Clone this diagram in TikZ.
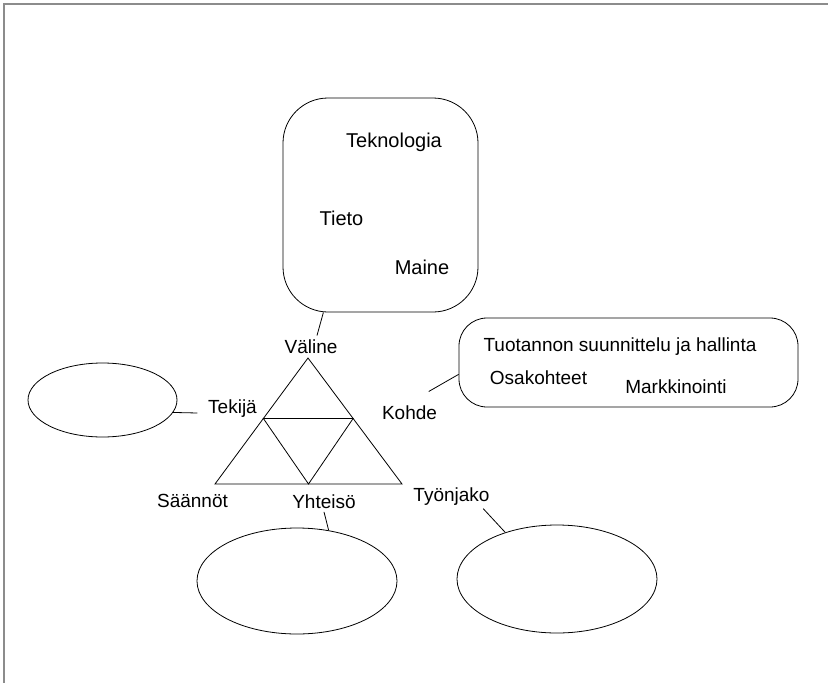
\documentclass[tikz,border=0pt]{standalone}
\usepackage{fontspec}
\setmainfont{Liberation Sans}
\usepackage{tikz}
\usetikzlibrary{shapes.geometric,calc}

\begin{document}
\begin{tikzpicture}[x=1pt,y=-1pt,line width=0.8pt,
  lbl/.style={anchor=base,font=\fontsize{19}{22}\selectfont},
  big/.style={anchor=base,font=\fontsize{20}{24}\selectfont},
  oval/.style={draw,shape=ellipse,inner sep=0pt}]

\useasboundingbox (0,0) rectangle (828,683);
\draw[gray!90,line width=1.6pt] (4,683) -- (4,4) -- (828,4);

\node[draw,rounded corners=45pt,minimum width=195pt,minimum height=214pt] (tools) at (380.5,205) {};
\node[big] (tekno) at (394,147) {Teknologia};
\node[big] (tieto) at (341.5,225) {Tieto};
\node[big] (maine) at (422,274) {Maine};

\node[draw,rounded corners=28pt,minimum width=339pt,minimum height=89pt] (object) at (628.5,362.5) {};
\node[lbl] (tuotanto) at (620,351) {Tuotannon suunnittelu ja hallinta};
\node[lbl] (osakohteet) at (538.5,384) {Osakohteet};
\node[lbl] (markkinointi) at (676,393) {Markkinointi};

\node[oval,minimum width=149pt,minimum height=74pt] (subject) at (102.5,400) {};
\node[oval,minimum width=200pt,minimum height=106pt] (community) at (297,581) {};
\node[oval,minimum width=200pt,minimum height=108pt] (division) at (557,579) {};

\node[lbl] (valine) at (311,353) {Väline};
\node[lbl] (tekija) at (232.5,413) {Tekijä};
\node[lbl] (kohde) at (409.5,419) {Kohde};
\node[lbl] (saannot) at (192.5,507) {Säännöt};
\node[lbl] (yhteiso) at (324,508) {Yhteisö};
\node[lbl] (tyonjako) at (451.5,501) {Työnjako};

\coordinate (apex) at (308,358);
\coordinate (baseL) at (215,484);
\coordinate (baseR) at (402,484);
\draw (apex) -- (baseL) -- (baseR) -- cycle;
\draw ($(apex)!0.48!(baseL)$) -- ($(apex)!0.48!(baseR)$) -- ($(baseL)!0.5!(baseR)$) -- cycle;

\path (tools.-118) edge ([xshift=6pt]valine.north);
\path (subject.-10) edge ([xshift=-7pt]tekija.base west);
\path (object.184) edge ([shift={(-12,-10)}]kohde.north east);
\path (community.58) edge (yhteiso.south);
\path (division.138) edge ([xshift=-10pt]tyonjako.south east);

\end{tikzpicture}
\end{document}
